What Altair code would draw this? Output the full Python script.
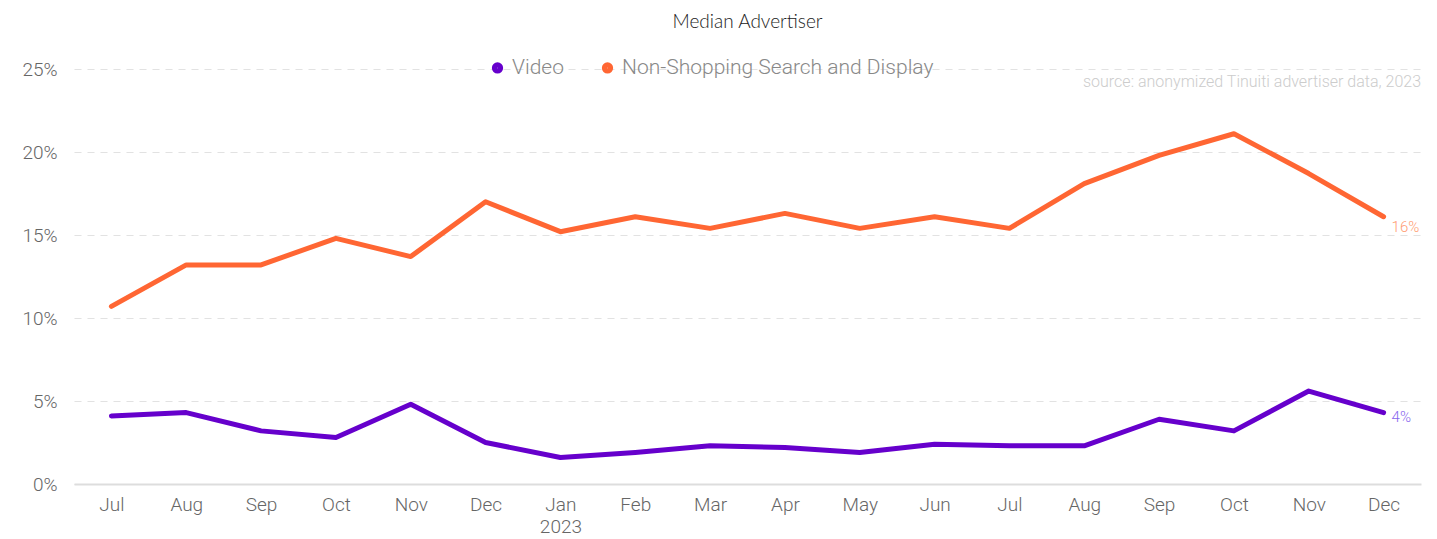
import altair as alt
import pandas as pd

months = ["Jul 2022", "Aug 2022", "Sep 2022", "Oct 2022", "Nov 2022", "Dec 2022",
          "Jan 2023", "Feb 2023", "Mar 2023", "Apr 2023", "May 2023", "Jun 2023",
          "Jul 2023", "Aug 2023", "Sep 2023", "Oct 2023", "Nov 2023", "Dec 2023"]
video = [4.1, 4.3, 3.2, 2.8, 4.8, 2.5, 1.6, 1.9, 2.3, 2.2, 1.9, 2.4,
         2.3, 2.3, 3.9, 3.2, 5.6, 4.3]
non_shopping = [10.7, 13.2, 13.2, 14.8, 13.7, 17.0, 15.2, 16.1, 15.4, 16.3, 15.4, 16.1,
                15.4, 18.1, 19.8, 21.1, 18.7, 16.1]
series_names = ["Video", "Non-Shopping Search and Display"]
series_colors = ["#6600CC", "#FF6633"]
source_note = "source: anonymized Tinuiti advertiser data, 2023"

df = pd.DataFrame(
    [{"month": m, "series": series_names[0], "value": v} for m, v in zip(months, video)]
    + [{"month": m, "series": series_names[1], "value": v} for m, v in zip(months, non_shopping)]
)

W, H = 1347, 415
FONT = "Roboto"

x_enc = alt.X(
    "month:O", sort=months,
    scale=alt.Scale(type="point", padding=0.5),
    axis=alt.Axis(
        title=None, ticks=False, labelAngle=0, labelFontSize=19, labelFont=FONT,
        labelFontWeight=300, labelColor="#666666", labelPadding=11,
        domainColor="#dddddd", domainWidth=2, grid=False,
        labelExpr="datum.value == 'Jan 2023' ? ['Jan', '2023'] : split(datum.value, ' ')[0]",
        labelLineHeight=22,
    ),
)
y_enc = alt.Y(
    "value:Q",
    scale=alt.Scale(domain=[0, 25], nice=False),
    axis=alt.Axis(
        title=None, values=[0, 5, 10, 15, 20, 25], ticks=False, domain=False,
        labelExpr="datum.value + '%'", labelFontSize=19, labelFont=FONT,
        labelFontWeight=300, labelColor="#666666", labelPadding=17,
        gridColor="#e2e2e2", gridDash=[7, 6], gridWidth=1.2,
    ),
)

color_enc = alt.Color(
    "series:N",
    scale=alt.Scale(domain=series_names, range=series_colors),
    legend=alt.Legend(
        title=None, orient="none", direction="horizontal", legendX=413, legendY=-12,
        symbolType="circle", symbolSize=28, symbolStrokeWidth=6,
        labelFontSize=21, labelFont=FONT, labelFontWeight=300, labelColor="#888888",
        columnPadding=28, labelOffset=4, labelLimit=0,
    ),
)

base = alt.Chart(df)

lines = base.mark_line(strokeWidth=5, strokeCap="round", strokeJoin="round").encode(
    x=x_enc, y=y_enc, color=color_enc
)

last = base.transform_filter(alt.datum.month == months[-1]).transform_calculate(
    lbl="format(datum.value, '.0f') + '%'"
)

label_ns = last.transform_filter(alt.datum.series == series_names[1]).mark_text(
    align="left", baseline="middle", dx=8, dy=10, fontSize=15, font=FONT,
    fontWeight=300, color="#FF9A70"
).encode(x=alt.X("month:O", sort=months), y="value:Q", text="lbl:N")

label_v = last.transform_filter(alt.datum.series == series_names[0]).mark_text(
    align="left", baseline="middle", dx=8, dy=4, fontSize=15, font=FONT,
    fontWeight=300, color="#8866EE"
).encode(x=alt.X("month:O", sort=months), y="value:Q", text="lbl:N")

source = alt.Chart(pd.DataFrame({"t": [source_note]})).mark_text(
    align="right", baseline="middle", fontSize=16, font=FONT, fontWeight=300,
    color="#cccccc"
).encode(x=alt.value(W), y=alt.value(13), text="t:N")

chart = alt.layer(lines, label_ns, label_v, source).properties(
    width=W, height=H,
    padding={"left": 13, "right": 5, "top": 5, "bottom": 2},
    title=alt.TitleParams(
        "Median Advertiser", anchor="middle", fontSize=19, font="Lato",
        fontWeight=300, color="#222222", offset=25,
    ),
).configure_view(stroke=None)

chart.save("out.html", embed_options={"renderer": "svg", "actions": False})
